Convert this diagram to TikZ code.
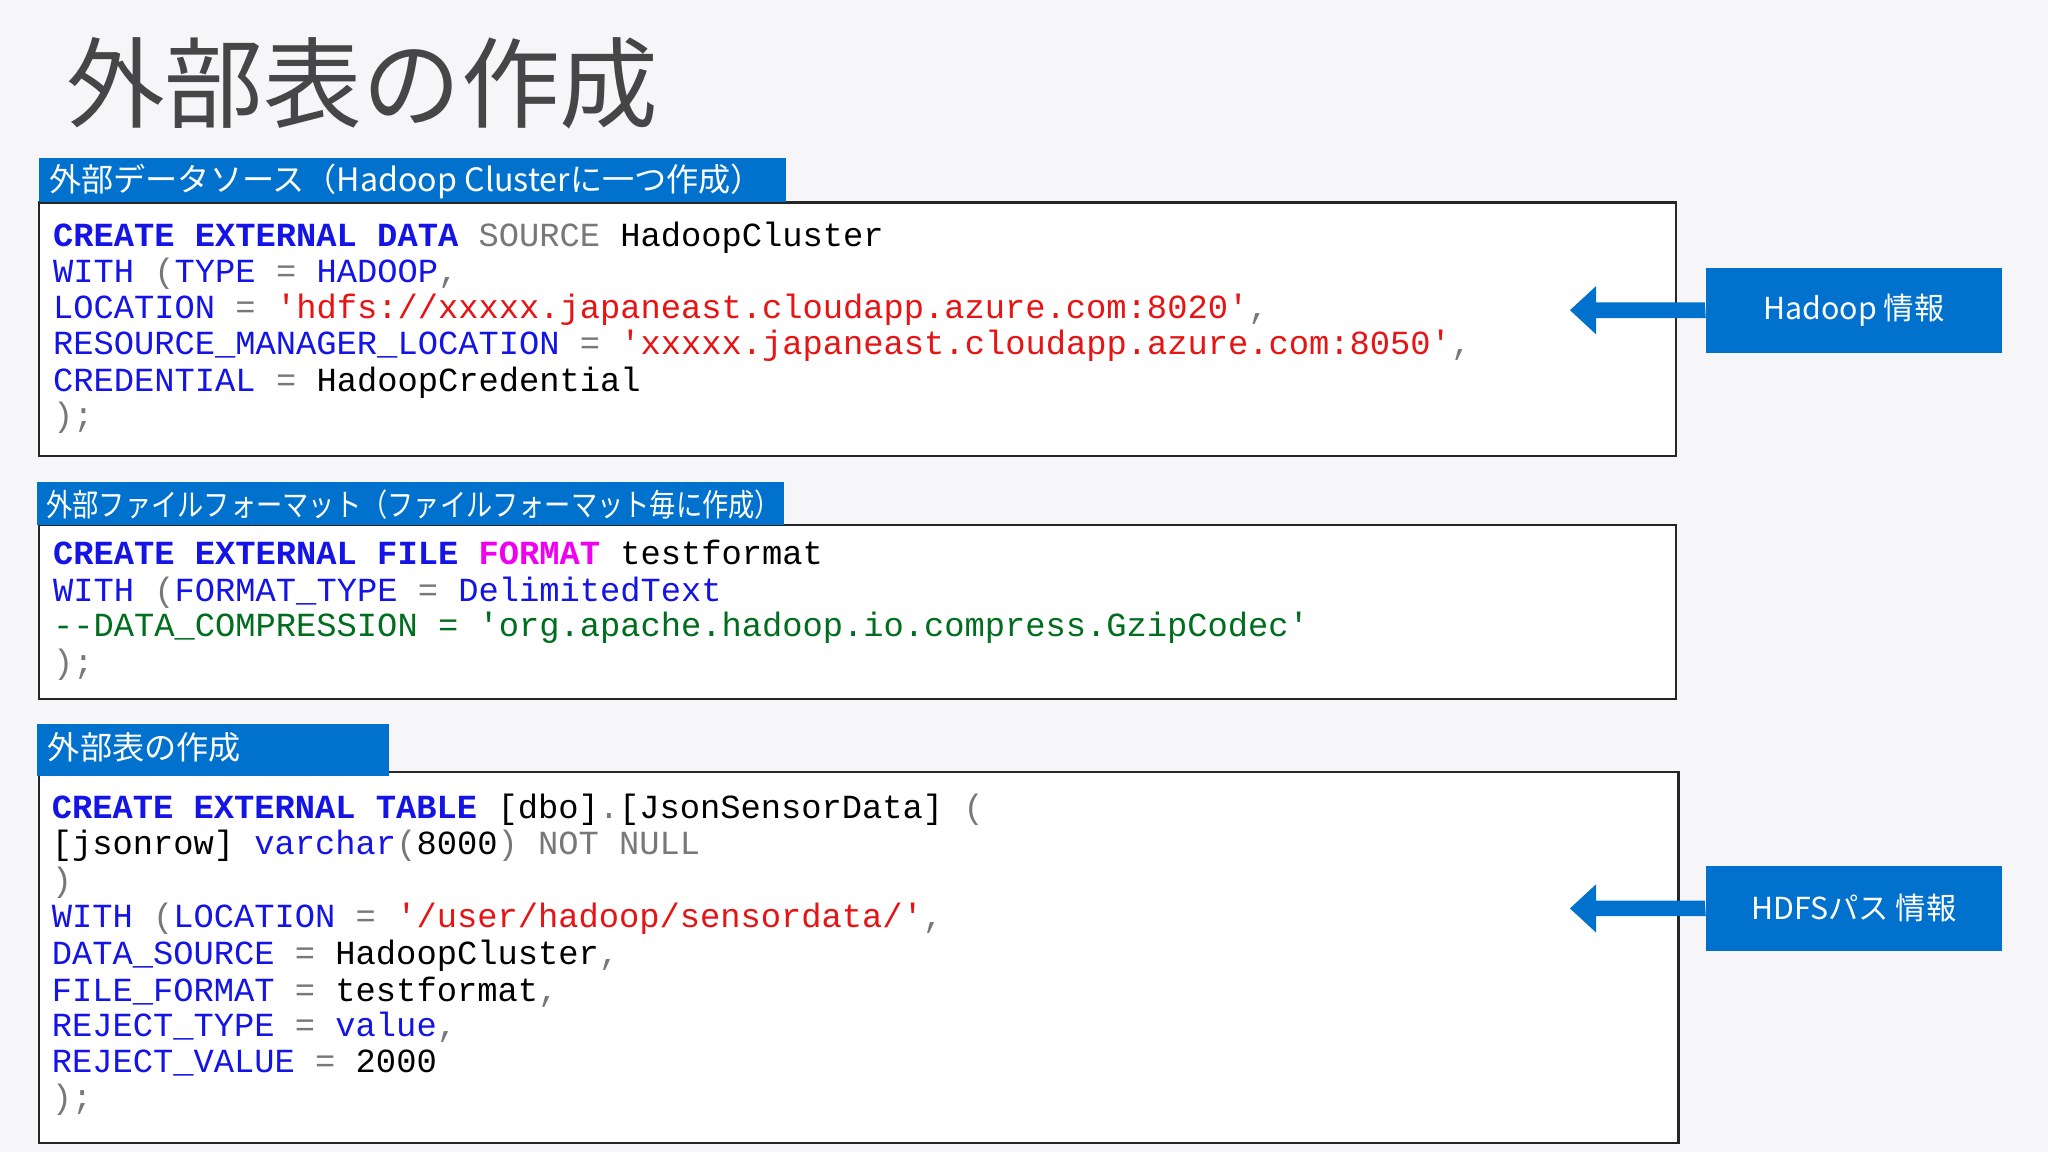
\documentclass[tikz,border=0pt]{standalone}
\usepackage{fontspec}
\setmonofont{Liberation Mono}
\newfontfamily\jp{Noto Sans CJK JP}
\definecolor{bg}{RGB}{246,246,248}
\definecolor{kw}{RGB}{20,20,230}
\definecolor{st}{RGB}{230,20,20}
\definecolor{mg}{RGB}{240,0,240}
\definecolor{gr}{RGB}{120,120,120}
\definecolor{cm}{RGB}{0,110,30}
\definecolor{hb}{RGB}{0,114,206}
\definecolor{tt}{RGB}{70,70,70}
\newcommand{\K}[1]{\textcolor{kw}{#1}}
\newcommand{\KB}[1]{\textcolor{kw}{\textbf{#1}}}
\newcommand{\Sx}[1]{\textcolor{st}{#1}}
\newcommand{\G}[1]{\textcolor{gr}{#1}}
\begin{document}
\begin{tikzpicture}[x=0.01cm,y=-0.01cm,
  codeline/.style={anchor=west,inner sep=0,font=\ttfamily\fontsize{7.35pt}{8pt}\selectfont,text height=0.18cm,text depth=0.05cm},
  hdrtxt/.style={anchor=west,text=white,font=\jp\fontsize{7pt}{8pt}\selectfont,inner sep=0},
  frame/.style={draw=black!85,line width=0.5pt,fill=white},
  lbl/.style={fill=hb,text=white,font=\jp\fontsize{6.6pt}{8pt}\selectfont,minimum width=2.27cm,minimum height=0.65cm,inner sep=0},
  arr/.style={fill=hb,draw=none}]
\fill[bg] (0,0) rectangle (1568,882);
\node[anchor=west,text=tt,font=\jp\fontsize{21.5pt}{24pt}\selectfont,inner sep=0] (title) at (50,64) {外部表の作成};
% box 1
\draw[frame] (30,155) rectangle (1283,349);
\fill[hb] (30,121) rectangle (602,155);
\node[hdrtxt] (h1) at (37,139) {外部データソース（Hadoop Clusterに一つ作成）};
\node[codeline] (a1) at (40,182) {\KB{CREATE EXTERNAL DATA} \G{SOURCE} HadoopCluster};
\node[codeline] (a2) at (40,210) {\K{WITH} \G{(}\K{TYPE} \G{=} \K{HADOOP}\G{,}};
\node[codeline] (a3) at (40,237) {\K{LOCATION} \G{=} \Sx{'hdfs://xxxxx.japaneast.cloudapp.azure.com:8020'}\G{,}};
\node[codeline] (a4) at (40,265) {\K{RESOURCE\_MANAGER\_LOCATION} \G{=} \Sx{'xxxxx.japaneast.cloudapp.azure.com:8050'}\G{,}};
\node[codeline] (a5) at (40,293) {\K{CREDENTIAL} \G{=} HadoopCredential};
\node[codeline] (a6) at (40,320) {\G{);}};
% box 2
\draw[frame] (30,402) rectangle (1283,535);
\fill[hb] (28,369) rectangle (600,402);
\node[hdrtxt,font=\jp\fontsize{6.8pt}{8pt}\selectfont,xscale=0.84] (h2) at (35,386) {外部ファイルフォーマット（ファイルフォーマット毎に作成）};
\node[codeline] (b1) at (40,426) {\KB{CREATE EXTERNAL FILE} \textcolor{mg}{\textbf{FORMAT}} testformat};
\node[codeline] (b2) at (40,454) {\K{WITH} \G{(}\K{FORMAT\_TYPE} \G{=} \K{DelimitedText}};
\node[codeline] (b3) at (40,481) {\textcolor{cm}{--DATA\_COMPRESSION = 'org.apache.hadoop.io.compress.GzipCodec'}};
\node[codeline] (b4) at (40,509) {\G{);}};
% box 3
\draw[frame] (30,591) rectangle (1285,875);
\fill[hb] (28,554) rectangle (298,594);
\node[hdrtxt] (h3) at (36,572) {外部表の作成};
\node[codeline] (c1) at (39,620) {\KB{CREATE EXTERNAL TABLE} [dbo]\G{.}[JsonSensorData] \G{(}};
\node[codeline] (c2) at (39,648) {[jsonrow] \K{varchar}\G{(}8000\G{)} \G{NOT NULL}};
\node[codeline] (c3) at (39,676) {\G{)}};
\node[codeline] (c4) at (39,704) {\K{WITH} \G{(}\K{LOCATION} \G{=} \Sx{'/user/hadoop/sensordata/'}\G{,}};
\node[codeline] (c5) at (39,732) {\K{DATA\_SOURCE} \G{=} HadoopCluster\G{,}};
\node[codeline] (c6) at (39,760) {\K{FILE\_FORMAT} \G{=} testformat\G{,}};
\node[codeline] (c7) at (39,787) {\K{REJECT\_TYPE} \G{=} \K{value}\G{,}};
\node[codeline] (c8) at (39,815) {\K{REJECT\_VALUE} \G{=} 2000};
\node[codeline] (c9) at (39,842) {\G{);}};
% labels and arrows
\node[lbl] (l1) at (1419.5,237.5) {Hadoop 情報};
\node[lbl] (l2) at (1419.5,695.5) {HDFSパス 情報};
\fill[arr] (l1.west) ++(0,-6) -- (1222,231.5) -- (1222,219) -- (1202,237.5) -- (1222,256) -- (1222,243.5) -- (1306,243.5) -- cycle;
\fill[arr] (l2.west) ++(0,-6) -- (1222,689.5) -- (1222,677) -- (1202,695.5) -- (1222,714) -- (1222,701.5) -- (1306,701.5) -- cycle;
\end{tikzpicture}
\end{document}
